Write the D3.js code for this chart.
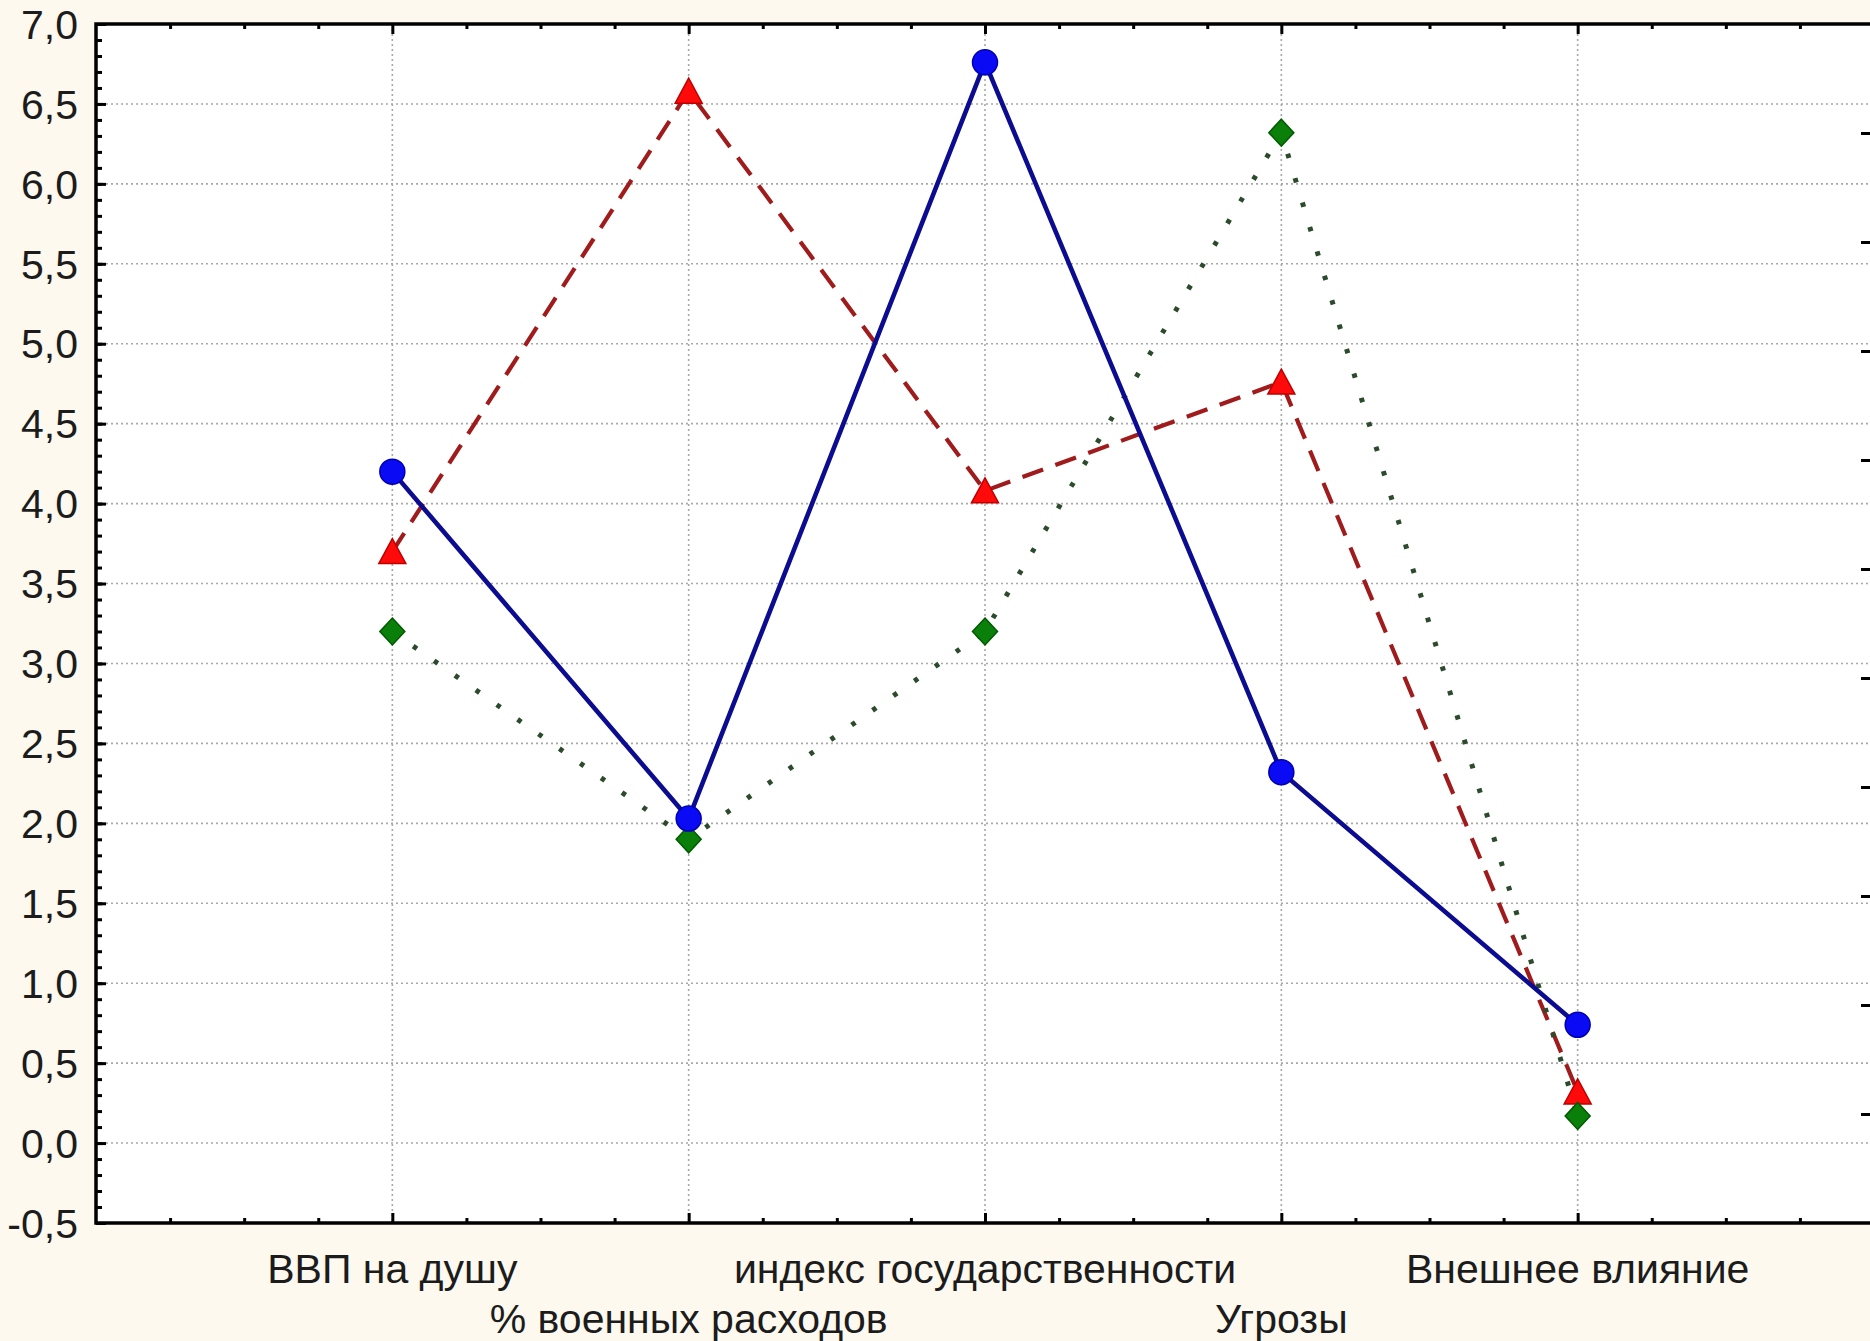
<!DOCTYPE html>
<html>
<head>
<meta charset="utf-8">
<script src="https://cdn.jsdelivr.net/npm/d3@7"></script>
<style>
  html, body { margin: 0; padding: 0; background: #fdf9ef; }
  text { font-family: "Liberation Sans", Arial, sans-serif; fill: #1c1c1c; }
</style>
</head>
<body>
<div id="chart"></div>
<script>
// categories along the x axis (staggered in two rows like the original)
var categories = ["ВВП на душу", "% военных расходов", "индекс государственности", "Угрозы", "Внешнее влияние"];

// three series
var blueVals  = [4.20, 2.03, 6.76, 2.32, 0.74];
var redVals   = [3.70, 6.58, 4.08, 4.76, 0.32];
var greenVals = [3.20, 1.90, 3.20, 6.32, 0.17];

var yTicks = [-0.5, 0, 0.5, 1, 1.5, 2, 2.5, 3, 3.5, 4, 4.5, 5, 5.5, 6, 6.5, 7];

var width = 1870, height = 1341;
var margin = {top: 24, right: -4, bottom: 118, left: 96};
var plotW = width - margin.left - margin.right;
var plotH = height - margin.top - margin.bottom;

var svg = d3.select("#chart").append("svg")
    .attr("width", width)
    .attr("height", height);

svg.append("rect").attr("width", width).attr("height", height).attr("fill", "#fdf9ef");

var g = svg.append("g").attr("transform", `translate(${margin.left}, ${margin.top})`);

g.append("rect").attr("width", plotW).attr("height", plotH).attr("fill", "#ffffff");

// scales
var x = d3.scaleLinear().domain([0, categories.length + 1]).range([0, plotW]);
var y = d3.scaleLinear().domain([-0.5, 7]).range([plotH, 0]);
var yRight = d3.scaleLinear().domain([0, 11]).range([plotH, 0]); // odd right-side ticks

var catIdx = d3.range(1, categories.length + 1);
var fmt = v => d3.format(".1f")(v).replace(".", ",").replace("−", "-");

// grid
g.append("g").selectAll("line")
    .data(yTicks.slice(1, -1))
    .join("line")
    .attr("x1", 0).attr("x2", plotW)
    .attr("y1", d => y(d)).attr("y2", d => y(d))
    .attr("stroke", "#a8a8a8").attr("stroke-width", 1.6).attr("stroke-dasharray", "2,3");

g.append("g").selectAll("line")
    .data(catIdx)
    .join("line")
    .attr("x1", d => x(d)).attr("x2", d => x(d))
    .attr("y1", 0).attr("y2", plotH)
    .attr("stroke", "#a8a8a8").attr("stroke-width", 1.6).attr("stroke-dasharray", "2,3");

// axes (ticks pointing inward)
function styleAxis(sel) {
    sel.select(".domain").remove();
    sel.selectAll("line").attr("stroke", "#000").attr("stroke-width", 3);
}

var minorX = d3.range(0, categories.length + 1.01, 0.25).filter(v => v % 1 !== 0);
var minorY = d3.range(-0.5, 7.01, 0.1).map(v => +v.toFixed(1));

// bottom
g.append("g").attr("transform", `translate(0, ${plotH})`)
    .call(d3.axisTop(x).tickValues(minorX).tickSize(5).tickFormat(""))
    .call(styleAxis);
g.append("g").attr("transform", `translate(0, ${plotH})`)
    .call(d3.axisTop(x).tickValues(catIdx).tickSize(10).tickFormat(""))
    .call(styleAxis);
// top
g.append("g")
    .call(d3.axisBottom(x).tickValues(minorX).tickSize(5).tickFormat(""))
    .call(styleAxis);
g.append("g")
    .call(d3.axisBottom(x).tickValues(catIdx).tickSize(10).tickFormat(""))
    .call(styleAxis);
// left
g.append("g")
    .call(d3.axisRight(y).tickValues(minorY).tickSize(6).tickFormat(""))
    .call(styleAxis);
g.append("g")
    .call(d3.axisRight(y).tickValues(yTicks).tickSize(10).tickFormat(""))
    .call(styleAxis);
// right
g.append("g").attr("transform", `translate(${plotW}, 0)`)
    .call(d3.axisLeft(yRight).tickValues(d3.range(1, 11)).tickSize(13).tickFormat(""))
    .call(styleAxis);

// frame
g.append("rect").attr("width", plotW).attr("height", plotH)
    .attr("fill", "none").attr("stroke", "#000").attr("stroke-width", 3.5);

// y labels
g.append("g").selectAll("text")
    .data(yTicks)
    .join("text")
    .attr("x", -18)
    .attr("y", d => y(d))
    .attr("dy", "0.36em")
    .attr("text-anchor", "end")
    .style("font-size", "41px")
    .text(fmt);

// x labels, staggered
g.append("g").selectAll("text")
    .data(categories)
    .join("text")
    .attr("x", (d, i) => x(i + 1))
    .attr("y", (d, i) => plotH + (i % 2 === 0 ? 60 : 110))
    .attr("text-anchor", "middle")
    .style("font-size", "41px")
    .text(d => d);

// series
function trianglePath(cx, cy) {
    return `M${cx},${cy - 13}L${cx + 13.5},${cy + 12}L${cx - 13.5},${cy + 12}Z`;
}
function diamondPath(cx, cy) {
    return `M${cx},${cy - 13.5}L${cx + 12.5},${cy}L${cx},${cy + 13.5}L${cx - 12.5},${cy}Z`;
}

var line = d3.line().x((d, i) => x(i + 1)).y(d => y(d));

// red dashed with triangles
g.append("path").datum(redVals)
    .attr("d", line).attr("fill", "none")
    .attr("stroke", "#a01c1c").attr("stroke-width", 4.2)
    .attr("stroke-dasharray", "22,13");
g.append("g").selectAll("path")
    .data(redVals)
    .join("path")
    .attr("d", (d, i) => trianglePath(x(i + 1), y(d)))
    .attr("fill", "#ff0a0a").attr("stroke", "#c00000").attr("stroke-width", 1.5);

// green dotted with diamonds
g.append("path").datum(greenVals)
    .attr("d", line).attr("fill", "none")
    .attr("stroke", "#2c4a2c").attr("stroke-width", 5)
    .attr("stroke-dasharray", "4.5,21");
g.append("g").selectAll("path")
    .data(greenVals)
    .join("path")
    .attr("d", (d, i) => diamondPath(x(i + 1), y(d)))
    .attr("fill", "#0a800a").attr("stroke", "#005a00").attr("stroke-width", 1.5);

// blue solid with circles
g.append("path").datum(blueVals)
    .attr("d", line).attr("fill", "none")
    .attr("stroke", "#0c0c90").attr("stroke-width", 4.6);
g.append("g").selectAll("circle")
    .data(blueVals)
    .join("circle")
    .attr("cx", (d, i) => x(i + 1))
    .attr("cy", d => y(d))
    .attr("r", 12.5)
    .attr("fill", "#0a0af5").attr("stroke", "#0000b0").attr("stroke-width", 1.5);
</script>
</body>
</html>
